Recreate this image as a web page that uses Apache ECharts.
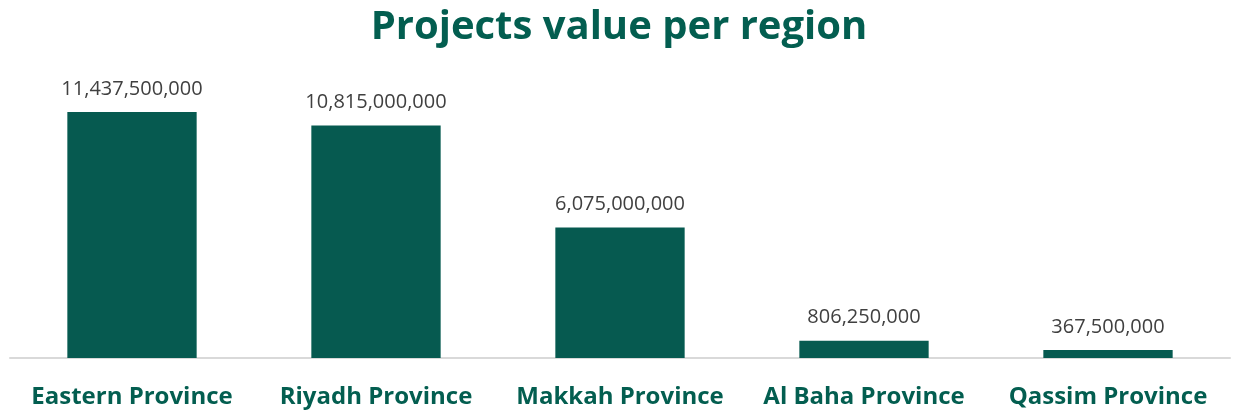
<!DOCTYPE html>
<html>
<head>
<meta charset="utf-8">
<script src="https://cdn.jsdelivr.net/npm/echarts@6/dist/echarts.min.js"></script>
<style>
html, body { margin: 0; padding: 0; background: #fff; }
#main { width: 1238px; height: 413px; }
</style>
</head>
<body>
<div id="main"></div>
<script>
// 数据
var regions = ['Eastern Province', 'Riyadh Province', 'Makkah Province', 'Al Baha Province', 'Qassim Province'];
var projectValues = [11437500000, 10815000000, 6075000000, 806250000, 367500000];

var chart = echarts.init(document.getElementById('main'));
chart.setOption({
    backgroundColor: '#fff',
    title: {
        text: 'Projects value per region',
        left: 'center',
        top: 3,
        textStyle: {
            color: '#035E50',
            fontFamily: 'Open Sans',
            fontWeight: 'bold',
            fontSize: 40
        }
    },
    grid: {
        left: 10,
        right: 8,
        top: 100,
        bottom: 55,
        containLabel: false
    },
    xAxis: {
        type: 'category',
        data: regions,
        axisLine: {
            lineStyle: { color: '#d9d9d9', width: 2 }
        },
        axisTick: { show: false },
        axisLabel: {
            interval: 0, // 全部显示
            hideOverlap: false,
            color: '#035E50',
            fontFamily: 'Open Sans',
            fontWeight: 'bold',
            fontSize: 24,
            margin: 27
        }
    },
    yAxis: {
        type: 'value',
        min: 0,
        max: 12000000000,
        show: false,
        splitLine: { show: false }
    },
    series: [{
        type: 'bar',
        data: projectValues,
        barWidth: '53%',
        itemStyle: { color: '#065A50' },
        label: {
            show: true,
            position: 'top',
            distance: 13,
            color: '#404040',
            fontFamily: 'Open Sans',
            fontSize: 20,
            formatter: function (p) {
                return p.value.toLocaleString('en-US');
            }
        }
    }]
});
</script>
</body>
</html>
